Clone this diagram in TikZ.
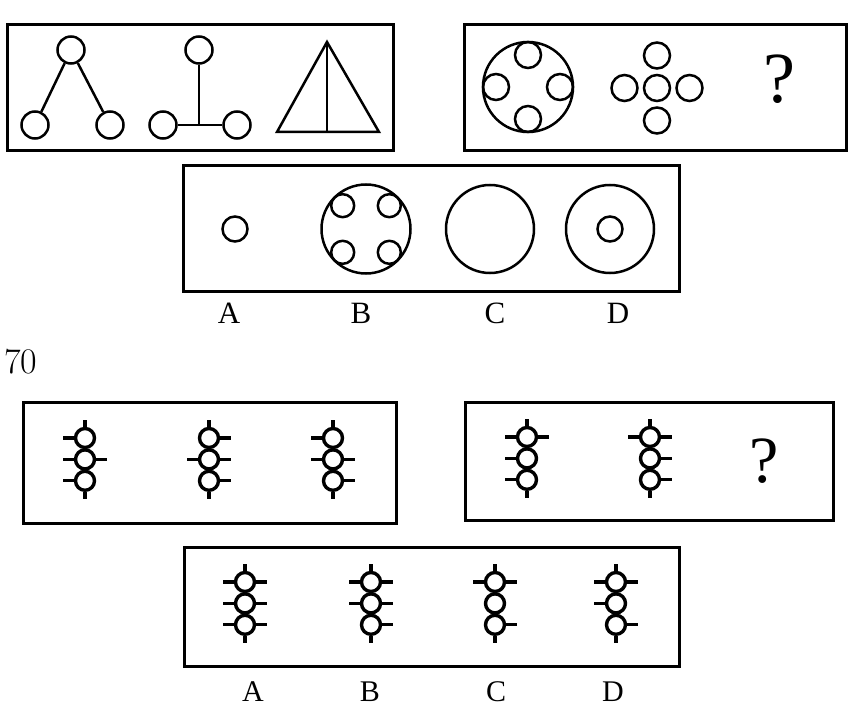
\documentclass[tikz,border=0pt]{standalone}
\usepackage{fontspec}
\newfontfamily\timesfont{Liberation Serif}
\usetikzlibrary{positioning}
\tikzstyle{frame} = [draw, line width=3pt]
\tikzstyle{ring} = [draw, circle,
	line width=2.5pt,
	inner sep=0pt,
	minimum size=26pt
	]
\tikzstyle{stroke} = [draw, line width=2.5pt]
\tikzstyle{bead} = [draw, circle,
	line width=3.4pt,
	inner sep=0pt,
	minimum size=19pt
	]
\tikzstyle{spike} = [draw, line width=3.2pt]
\tikzstyle{letter} = [font=\timesfont\fontsize{31}{31}\selectfont]
\tikzstyle{quest} = [font=\timesfont\fontsize{72}{72}\selectfont]

% three beads: name, x, y of top bead, left ticks, right ticks
\newcommand{\beadstack}[5]{%
    \node [bead] (#1a) at (#2,#3) {};
    \node [bead, below=-1pt of #1a] (#1b) {};
    \node [bead, below=-1pt of #1b] (#1c) {};
    \draw [spike] (#1a.north) -- ++(0pt,7pt);
    \draw [spike] (#1c.south) -- ++(0pt,-7pt);
    \foreach \n in {#4} \draw [spike] (#1\n.west) -- ++(-11pt,0pt);
    \foreach \n in {#5} \draw [spike] (#1\n.east) -- ++(11pt,0pt);
}

\begin{document}
\begin{tikzpicture}[x=1pt, y=-1pt]
    \useasboundingbox (0,0) rectangle (849,711);

    % 69
    \draw [frame] (7,25) rectangle (393,151);
    \node [ring, minimum size=27pt] (t1) at (71,50) {};
    \node [ring, minimum size=27pt] (l1) at (35,125) {};
    \node [ring, minimum size=27pt] (r1) at (110,125) {};
    \draw [stroke] (t1) -- (l1);
    \draw [stroke] (t1) -- (r1);

    \node [ring, minimum size=27pt] (t2) at (199,50) {};
    \node [ring, minimum size=27pt] (l2) at (163,125) {};
    \node [ring, minimum size=27pt] (r2) at (237,125) {};
    \coordinate (j2) at (199,125);
    \draw [stroke] (t2) -- (j2);
    \draw [stroke] (l2) -- (r2);

    \coordinate (apex) at (327,42);
    \coordinate (baseL) at (277,132);
    \coordinate (baseR) at (379,132);
    \coordinate (baseM) at (327,132);
    \draw [stroke] (apex) -- (baseL) -- (baseR) -- cycle;
    \draw [stroke] (apex) -- (baseM);

    \draw [frame] (464,25) rectangle (846,151);
    \node [ring, minimum size=90pt] (wheel) at (528,87) {};
    \node [ring, anchor=north] (wN) at (wheel.north) {};
    \node [ring, anchor=south] (wS) at (wheel.south) {};
    \node [ring, anchor=west] (wW) at (wheel.west) {};
    \node [ring, anchor=east] (wE) at (wheel.east) {};

    \node [ring] (cc) at (657,88) {};
    \node [ring, above=4pt of cc] (cN) {};
    \node [ring, below=4pt of cc] (cS) {};
    \node [ring, left=4pt of cc] (cW) {};
    \node [ring, right=4pt of cc] (cE) {};

    \node [quest] (q1) at (779,79) {?};

    \draw [frame] (183,166) rectangle (679,292);
    \node [ring, minimum size=25pt] (optA) at (235,229) {};
    \node [ring, minimum size=89pt] (optB) at (366,229) {};
    \node [ring, minimum size=23pt, anchor=north west] at (optB.north west) {};
    \node [ring, minimum size=23pt, anchor=north east] at (optB.north east) {};
    \node [ring, minimum size=23pt, anchor=south west] at (optB.south west) {};
    \node [ring, minimum size=23pt, anchor=south east] at (optB.south east) {};
    \node [ring, minimum size=88pt] (optC) at (490,229) {};
    \node [ring, minimum size=88pt] (optD) at (610,229) {};
    \node [ring, minimum size=25pt] (optDin) at (610,229) {};

    \node [letter] (labA) at (229,313) {A};
    \node [letter] (labB) at (361,313) {B};
    \node [letter] (labC) at (495,313) {C};
    \node [letter] (labD) at (618,313) {D};

    % 70
    \node [font=\fontsize{36}{40}\selectfont] (num) at (21,362) {70};

    \draw [frame] (23,402) rectangle (396,523);
    \beadstack{s1}{85}{438}{a,b,c}{b}
    \beadstack{s2}{209}{438}{b}{a,b,c}
    \beadstack{s3}{333}{438}{a,b}{b,c}

    \draw [frame] (465,402) rectangle (833,520);
    \beadstack{s4}{527}{437}{a,b,c}{a}
    \beadstack{s5}{650}{437}{a}{a,b,c}
    \node [quest, font=\timesfont\fontsize{66}{66}\selectfont] (q2) at (764,461) {?};

    \draw [frame] (184,547) rectangle (679,666);
    \beadstack{oA}{245}{582}{a,b,c}{a,b,c}
    \beadstack{oB}{371}{582}{a,b}{a,b,c}
    \beadstack{oC}{495}{582}{a}{a,c}
    \beadstack{oD}{616}{582}{a,b}{a,c}

    \node [letter, font=\timesfont\fontsize{30}{30}\selectfont] (labA2) at (253,692) {A};
    \node [letter, font=\timesfont\fontsize{30}{30}\selectfont] (labB2) at (370,692) {B};
    \node [letter, font=\timesfont\fontsize{30}{30}\selectfont] (labC2) at (496,692) {C};
    \node [letter, font=\timesfont\fontsize{30}{30}\selectfont] (labD2) at (613,692) {D};
\end{tikzpicture}
\end{document}
